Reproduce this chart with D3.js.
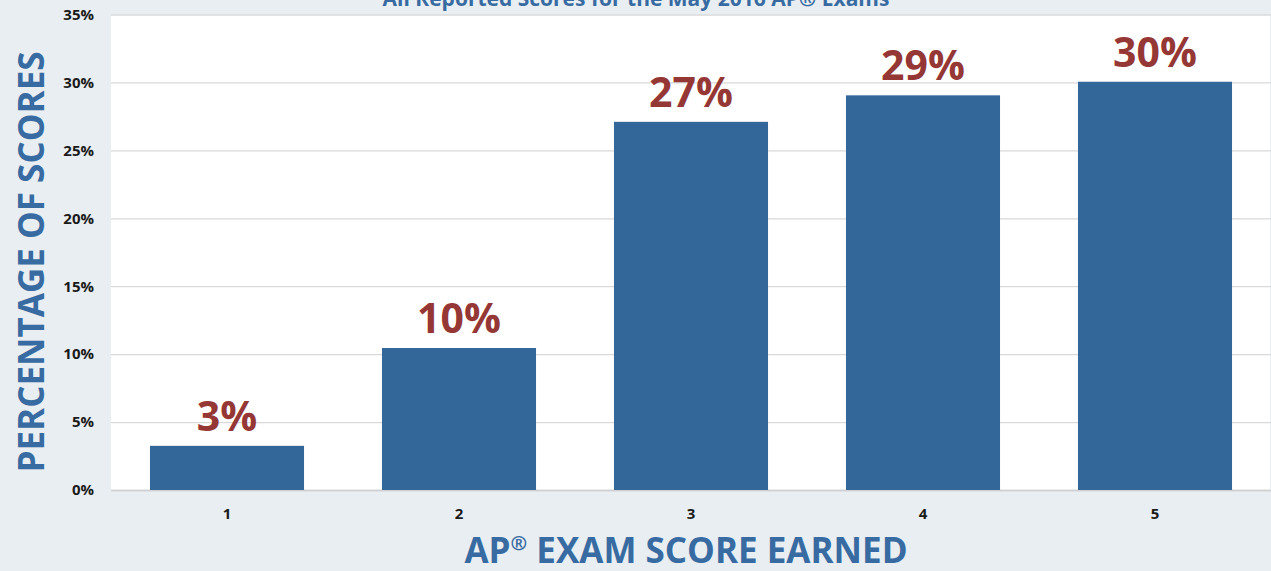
<!DOCTYPE html>
<html>
<head>
<meta charset="utf-8">
<script src="https://cdn.jsdelivr.net/npm/d3@7"></script>
<style>
  html, body { margin: 0; padding: 0; background: #e9eef3; }
  svg { display: block; font-family: "Open Sans", "Lato", sans-serif; }
</style>
</head>
<body>
<script>
// scores and share of reported scores (%)
let scores = ["1", "2", "3", "4", "5"]
let shares = [3.25, 10.45, 27.1, 29.05, 30.05]
let shareLabels = ["3%", "10%", "27%", "29%", "30%"]
let yTicks = [0, 5, 10, 15, 20, 25, 30, 35]

let chartTitle = "All Reported Scores for the May 2016 AP® Exams"
let yTitle = "PERCENTAGE OF SCORES"
let xTitle = ["AP", "®", " EXAM SCORE EARNED"]

let w = 1271
let h = 571
let m = {top: 14.5, right: 0, bottom: 81, left: 111}

let cvs = d3.select("body")
    .append("svg")
        .attr("width", w)
        .attr("height", h)

cvs.append("rect")
    .attr("width", w)
    .attr("height", h)
    .attr("fill", "#e9eef3")

let x = d3.scaleBand()
    .domain(scores)
    .range([m.left, w - m.right])
    .paddingInner(0.336)
    .paddingOuter(0.168)

let y = d3.scaleLinear()
    .domain([0, 35])
    .range([h - m.bottom, m.top])

// plot area
cvs.append("rect")
    .attr("x", m.left)
    .attr("y", m.top)
    .attr("width", w - 1 - m.left)
    .attr("height", y(0) - m.top)
    .attr("fill", "#ffffff")

// gridlines
let grid = cvs.append("g")
    .attr("transform", `translate(${m.left},0)`)
    .call(d3.axisLeft(y).tickValues(yTicks).tickSize(-(w - m.left)).tickFormat(""))
grid.select(".domain").remove()
grid.selectAll("line")
    .attr("stroke", "#d9d9d9")
    .attr("stroke-width", 1.3)

// y labels
let yAxis = cvs.append("g")
    .attr("transform", `translate(${m.left - 17},0)`)
    .call(d3.axisLeft(y).tickValues(yTicks).tickSize(0).tickPadding(0).tickFormat(d => d + "%"))
yAxis.select(".domain").remove()
yAxis.selectAll("text")
    .style("font-family", "'Open Sans', sans-serif")
    .style("font-size", "15px")
    .style("font-weight", "700")
    .attr("fill", "#1a1a1a")

// x labels
let xAxis = cvs.append("g")
    .attr("transform", `translate(0,${y(0)})`)
    .call(d3.axisBottom(x).tickSize(0).tickPadding(18))
xAxis.select(".domain")
    .attr("stroke", "#d0d0d0")
    .attr("stroke-width", 1.5)
xAxis.selectAll("text")
    .style("font-family", "'Open Sans', sans-serif")
    .style("font-size", "15px")
    .style("font-weight", "700")
    .attr("fill", "#1a1a1a")

// bars
cvs.append("g").selectAll("rect")
    .data(shares)
    .enter()
    .append("rect")
        .attr("x", (d, i) => x(scores[i]))
        .attr("y", d => y(d))
        .attr("width", x.bandwidth())
        .attr("height", d => y(0) - y(d))
        .attr("fill", "#336699")

// value labels
cvs.append("g").selectAll("text")
    .data(shares)
    .enter()
    .append("text")
        .text((d, i) => shareLabels[i])
        .attr("x", (d, i) => x(scores[i]) + x.bandwidth() / 2)
        .attr("y", d => y(d) - 15)
        .attr("text-anchor", "middle")
        .attr("fill", "#953735")
        .style("font-size", "41px")
        .style("font-weight", "700")

// chart title (cut off at top, like the original)
cvs.append("text")
    .text(chartTitle)
    .attr("x", 636)
    .attr("y", 6)
    .attr("text-anchor", "middle")
    .attr("fill", "#376ba1")
    .style("font-size", "21px")
    .style("font-weight", "700")

// y title
cvs.append("text")
    .text(yTitle)
    .attr("transform", "translate(44,262) rotate(-90)")
    .attr("text-anchor", "middle")
    .attr("fill", "#376ba1")
    .style("font-size", "35px")
    .style("font-weight", "700")

// x title
let xt = cvs.append("text")
    .attr("x", 686)
    .attr("y", 563)
    .attr("text-anchor", "middle")
    .attr("fill", "#376ba1")
    .style("font-size", "35px")
    .style("font-weight", "700")
xt.append("tspan").text(xTitle[0])
xt.append("tspan").text(xTitle[1])
    .style("font-size", "20px")
    .attr("dy", -13)
xt.append("tspan").text(xTitle[2])
    .attr("dy", 13)
</script>
</body>
</html>
